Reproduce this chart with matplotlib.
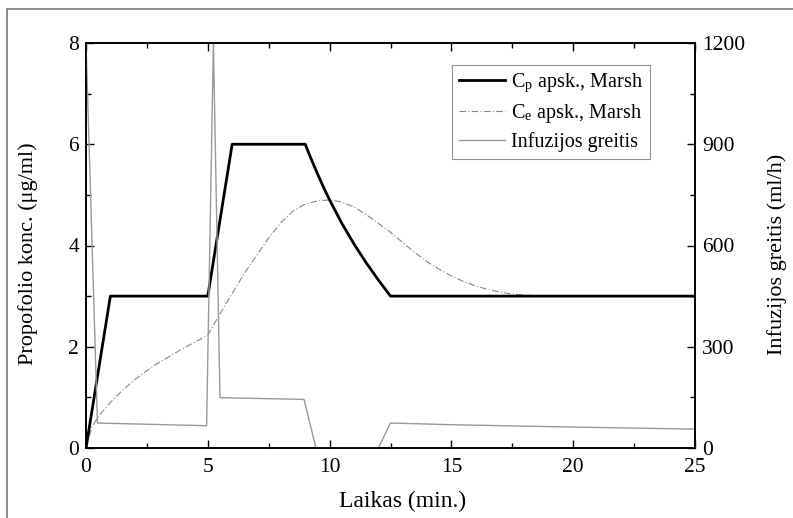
import numpy as np
import matplotlib
matplotlib.use("Agg")
import matplotlib.pyplot as plt
from matplotlib.patches import Rectangle

plt.rcParams["font.family"] = ["Liberation Serif", "DejaVu Serif"]
plt.rcParams["mathtext.fontset"] = "stix"

# Cp apsk., Marsh (ug/ml)
t_cp = [0, 1, 5, 6, 9, 9.25, 9.5, 9.75, 10, 10.5, 11, 11.5, 12, 12.5, 25]
cp = [0, 3, 3, 6, 6, 5.7, 5.42, 5.15, 4.9, 4.44, 4.03, 3.66, 3.32, 3.0, 3.0]

# Ce apsk., Marsh (ug/ml)
t_ce = [0, 0.25, 0.5, 1, 1.5, 2, 2.5, 3, 3.5, 4, 4.5, 5, 5.5, 6, 6.5, 7, 7.5, 8, 8.5, 9,
        9.5, 10, 10.5, 11, 11.5, 12, 12.5, 13, 13.5, 14, 14.5, 15, 15.5, 16, 16.5, 17,
        17.5, 18, 18.5, 19, 25]
ce = [0, 0.42, 0.62, 0.9, 1.14, 1.35, 1.53, 1.69, 1.83, 1.97, 2.1, 2.23, 2.65, 3.05, 3.45,
      3.8, 4.15, 4.45, 4.68, 4.82, 4.88, 4.9, 4.86, 4.76, 4.61, 4.44, 4.26, 4.06, 3.86,
      3.68, 3.53, 3.4, 3.29, 3.2, 3.13, 3.08, 3.04, 3.02, 3.01, 3.0, 3.0]

# Infuzijos greitis (ml/h)
t_inf = [0, 0.47, 4.95, 5.23, 5.5, 8.95, 9.44, 12.0, 12.5, 15, 20, 25]
inf = [1200, 74, 66, 1200, 149, 144, 0, 0, 74, 69, 62, 56]

fig = plt.figure(figsize=(7.93, 5.18), dpi=100)
ax = fig.add_axes([86/793, 1-448/518, (695-86)/793, (448-43)/518])
ax2 = ax.twinx()

l1, = ax.plot(t_cp, cp, color='black', linewidth=2.0, label='C$_\\mathregular{p}$ apsk., Marsh', zorder=3)
l2, = ax.plot(t_ce, ce, color='#888888', linewidth=0.8, linestyle=(0, (6, 2, 1, 2)), label='C$_\\mathregular{e}$ apsk., Marsh', zorder=2)
l3, = ax2.plot(t_inf, inf, color='#999999', linewidth=1.0, label='Infuzijos greitis')

ax.set_xlim(0, 25)
ax.set_ylim(0, 8)
ax2.set_ylim(0, 1200)
ax.set_xticks([0, 5, 10, 15, 20, 25])
ax.set_xticks(np.arange(0, 25.1, 2.5), minor=True)
ax.set_yticks([0, 2, 4, 6, 8])
ax.set_yticks(np.arange(0, 8.1, 1), minor=True)
ax2.set_yticks([0, 300, 600, 900, 1200])
ax2.set_yticks(np.arange(0, 1201, 150), minor=True)

for a in (ax, ax2):
    a.tick_params(which='both', direction='in', labelsize=15.5, width=1.0, pad=5)
    a.tick_params(which='major', length=6)
    a.tick_params(which='minor', length=3.5)
    for s in a.spines.values():
        s.set_linewidth(1.2)
ax.tick_params(axis='x', which='both', top=True, pad=7)

ax.set_xlabel('Laikas (min.)', fontsize=17)
ax.set_ylabel('Propofolio konc. (μg/ml)', fontsize=16)
ax2.set_ylabel('Infuzijos greitis (ml/h)', fontsize=16)
ax.xaxis.set_label_coords(0.52, -0.105)
ax.yaxis.set_label_coords(-0.079, 0.48)
ax2.yaxis.set_label_coords(1.118, 0.477)

leg = ax.legend(handles=[l1, l2, l3], loc='upper right', bbox_to_anchor=(0.926, 0.946),
                fontsize=14.5, frameon=True, fancybox=False, edgecolor='#777777',
                handlelength=2.3, handletextpad=0.3, borderpad=0.35, labelspacing=0.35,
                borderaxespad=0)
leg.get_frame().set_linewidth(0.8)

# outer frame
fig.patches.append(Rectangle((7/793, -0.05), 1.0, 1-9/518+0.05, transform=fig.transFigure,
                             fill=False, edgecolor='#777777', linewidth=1.2))

fig.savefig('out.png', dpi=100)
